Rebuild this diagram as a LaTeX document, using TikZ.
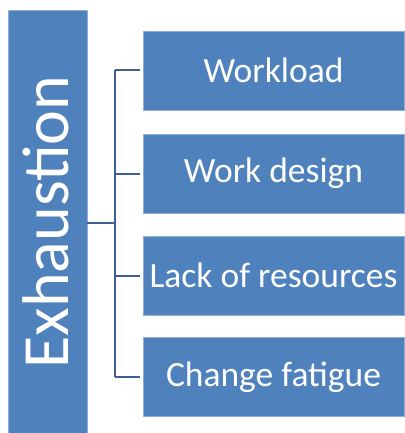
\documentclass[tikz,border=0pt]{standalone}
\usepackage{fontspec}
\setmainfont{Carlito}
\definecolor{boxblue}{HTML}{4F81BD}
\definecolor{boxedge}{HTML}{8FAFD8}
\definecolor{linkblue}{HTML}{3E5F92}
\begin{document}
\begin{tikzpicture}[x=1pt,y=-1pt,
  itembox/.style={fill=boxblue,draw=boxedge,line width=0.6pt,minimum width=261pt,minimum height=79pt,inner sep=0pt,text=white,font=\fontsize{35.5}{40}\selectfont},
  mainbox/.style={fill=boxblue,draw=boxedge,line width=0.6pt,minimum width=79pt,minimum height=424pt,inner sep=0pt,text=white},
  link/.style={draw=linkblue,line width=2pt}]
\useasboundingbox (0,0) rectangle (404,433);
\node[mainbox] (ex) at (47.5,222) {};
\node[text=white,rotate=90,font=\fontsize{66}{70}\selectfont,inner sep=0pt] (extext) at (46,222) {Exhaustion};
\node[itembox] (b1) at (273.5,70.5) {Workload};
\node[itembox] (b2) at (273.5,173.5) {Work design};
\node[itembox] (b3) at (273.5,275.5) {Lack of resources};
\node[itembox] (b4) at (273.5,377) {Change fatigue};
\coordinate (hub) at (115,223);
\coordinate (t1) at (115,70.5);
\coordinate (t4) at (115,377);
\path[link] (ex.east |- hub) -- (hub);
\path[link] (t1) -- (t4);
\path[link] (t1) -- ([xshift=-3pt]b1.west);
\path[link] (hub |- b2.west) -- ([xshift=-3pt]b2.west);
\path[link] (hub |- b3.west) -- ([xshift=-3pt]b3.west);
\path[link] (t4) -- ([xshift=-3pt]b4.west);
\end{tikzpicture}
\end{document}
